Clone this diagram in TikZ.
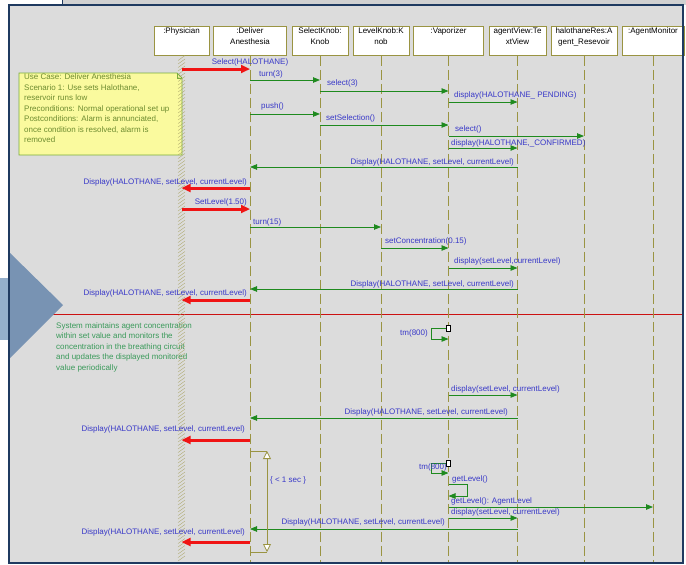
\documentclass[tikz,border=0pt]{standalone}
\usepackage{fontspec}
\setmainfont{Liberation Sans}
\usetikzlibrary{arrows.meta}
\definecolor{seqblue}{HTML}{3838C8}
\definecolor{seqgreen}{HTML}{1E8A1E}
\definecolor{seqred}{HTML}{F01414}
\definecolor{lifeolive}{HTML}{9A9442}
\definecolor{framebg}{HTML}{DCDCDC}
\definecolor{framenavy}{HTML}{1F3A60}
\definecolor{noteyellow}{HTML}{FAFA9E}
\definecolor{noteedge}{HTML}{7AAE3C}
\definecolor{notetext}{HTML}{6E8C30}
\definecolor{systext}{HTML}{3A9A5A}
\definecolor{chevron}{HTML}{7893B3}
\definecolor{chevronlight}{HTML}{94AFCB}
\tikzset{
  every picture/.style={line join=miter, font=\fontsize{8}{10.5}\selectfont},
  lifehead/.style={draw=lifeolive, line width=0.8pt, fill=white, minimum height=29pt, inner sep=0pt, anchor=north},
  headtxt/.style={anchor=north, align=center, inner sep=1pt, yshift=-1pt},
  lifeline/.style={lifeolive, line width=0.9pt, dash pattern=on 10pt off 4pt},
  hatch/.style={lifeolive!75!framebg, line width=0.35pt},
  msglbl/.style={seqblue, inner sep=0pt},
  call/.style={seqgreen, line width=0.8pt, -{Triangle[length=7pt, width=5.5pt]}},
  usercall/.style={seqred, line width=3pt, -{Triangle[length=9pt, width=8pt]}},
  timer/.style={fill=white, draw=black, line width=0.4pt},
  constraint/.style={lifeolive, line width=0.8pt,
    {Triangle[open, fill=white, length=8pt, width=8pt]}-{Triangle[open, fill=white, length=8pt, width=8pt]}},
  notebox/.style={fill=noteyellow, draw=noteedge, line width=0.8pt},
}

\begin{document}
\begin{tikzpicture}[x=1pt, y=-1pt]
  \useasboundingbox (0,0) rectangle (686,565);
  \fill[white] (0,0) rectangle (686,565);
  % slide behind and frame
  \fill[framebg!95!black] (62,0) rectangle (686,5);
  \draw[framenavy, line width=1pt] (62,0) -- (62,5);
  \fill[chevronlight] (0,278) rectangle (9,340);
  \fill[framebg] (9,5) rectangle (683,563);
  \draw[seqred!85!black, line width=0.8pt] (10,314) -- (683,314);
  \fill[chevron] (10,253) -- (63,305) -- (10,358) -- cycle;
  % lifelines
  \foreach \n/\x/\w/\t in {phys/181.5/55/{:Physician\\\mbox{}}, deliver/250/73/{:Deliver\\Anesthesia},
                          selknob/320/56/{SelectKnob:\\Knob}, levknob/381/56/{LevelKnob:K\\nob},
                          vapor/448.5/70/{:Vaporizer\\\mbox{}}, aview/517.5/57/{agentView:Te\\xtView},
                          halres/584/66/{halothaneRes:A\\gent\_Resevoir}, amon/653/62/{:AgentMonitor\\\mbox{}}}
    \node[lifehead, minimum width=\w pt, label={[headtxt]north:\t}] (\n) at (\x,26) {};
  \foreach \n in {deliver, selknob, levknob, vapor, aview, halres, amon}
    \draw[lifeline] (\n.south) -- (\n |- 0,563);
  % use case note
  \draw[notebox] (19,73) -- (177,73) -- (182,78) -- (182,155) -- (19,155) -- cycle;
  \draw[noteedge, line width=0.6pt] (177,73) -- (177,78) -- (182,78);
  \node[notetext, align=left, anchor=north west, inner sep=1pt] (usecase) at (23,73) {Use Case: Deliver Anesthesia\\
    Scenario 1: Use sets Halothane,\\reservoir runs low\\Preconditions: Normal operational set up\\
    Postconditions: Alarm is annunciated,\\once condition is resolved, alarm is\\removed};
  \node[systext, align=left, anchor=north west, inner sep=1pt] (sysnote) at (55,321) {System maintains agent concentration\\
    within set value and monitors the\\concentration in the breathing circuit\\and updates the displayed monitored\\value periodically};
  % physician lifeline is hatched
  \foreach \h in {58,61.5,...,561}
    \draw[hatch] (phys |- 0,\h) ++(-3.5,2.5) -- ++(7,-5);
  % green calls: from/to/y/label x/label y/anchor/text
  \foreach \f/\t/\y/\lx/\ly/\a/\l [count=\i] in {
      deliver/selknob/80/259/74/west/turn(3),
      selknob/vapor/91/327/83/west/select(3),
      vapor/aview/102/454/95/west/display(HALOTHANE\_ PENDING),
      deliver/selknob/114/261/106/west/push(),
      selknob/vapor/125/326/118/west/setSelection(),
      vapor/halres/136/455/129/west/select(),
      vapor/aview/148/451/143/west/{display(HALOTHANE,\_CONFIRMED)},
      aview/deliver/167/514/162/east/{Display(HALOTHANE, setLevel, currentLevel)},
      deliver/levknob/227/253/222/west/turn(15),
      levknob/vapor/248/385/241/west/setConcentration(0.15),
      vapor/aview/268/454/261/west/{display(setLevel,currentLevel)},
      aview/deliver/289/514/284/east/{Display(HALOTHANE, setLevel, currentLevel)},
      vapor/aview/395/451/389/west/{display(setLevel, currentLevel)},
      aview/deliver/418/508/412/east/{Display(HALOTHANE, setLevel, currentLevel)},
      vapor/amon/507/451/501/west/{getLevel(): AgentLevel},
      vapor/aview/518/451/512/west/{display(setLevel, currentLevel)},
      aview/deliver/529/445/522/east/{Display(HALOTHANE, setLevel, currentLevel)}}
  {
    \draw[call] (\f |- 0,\y) -- (\t |- 0,\y);
    \node[msglbl, anchor=\a] (c\i) at (\lx,\ly) {\l};
  }
  % red: physician <-> deliver anesthesia
  \foreach \f/\t/\y/\lx/\ly/\a/\l [count=\i] in {
      phys/deliver/69/250/62/center/Select(HALOTHANE),
      deliver/phys/188/247/182/east/{Display(HALOTHANE, setLevel, currentLevel)},
      phys/deliver/209/247/202/east/SetLevel(1.50),
      deliver/phys/300/247/293/east/{Display(HALOTHANE, setLevel, currentLevel)},
      deliver/phys/440/245/429/east/{Display(HALOTHANE, setLevel, currentLevel)},
      deliver/phys/542/245/532/east/{Display(HALOTHANE, setLevel, currentLevel)}}
  {
    \draw[usercall] (\f |- 0,\y) -- (\t |- 0,\y);
    \node[msglbl, anchor=\a] (u\i) at (\lx,\ly) {\l};
  }
  % self calls on the vaporizer
  \draw[call] (vapor |- 0,328) -- ++(-17,0) -- ++(0,11) -- (vapor |- 0,339);
  \draw[timer] (vapor |- 0,325) ++(-2,0) rectangle ++(4,6);
  \node[msglbl, anchor=east] (tm1) at (428,333) {tm(800)};
  \draw[call] (vapor |- 0,463) -- ++(-17,0) -- ++(0,10) -- (vapor |- 0,473);
  \draw[timer] (vapor |- 0,460) ++(-2,0) rectangle ++(4,6);
  \node[msglbl, anchor=east] (tm2) at (447,467) {tm(800)};
  \draw[call] (vapor |- 0,484) -- ++(19,0) -- ++(0,12) -- (vapor |- 0,496);
  \node[msglbl, anchor=west] (getlvl) at (452,479) {getLevel()};
  % timing constraint
  \coordinate (ctop) at (267,451);
  \coordinate (cbot) at (267,552);
  \draw[lifeolive, line width=0.8pt] (deliver |- ctop) -- (ctop) (deliver |- cbot) -- (cbot);
  \draw[constraint] (ctop) -- (cbot);
  \node[msglbl, anchor=west] (tlimit) at (270,480) {\{ < 1 sec \}};
  \draw[framenavy, line width=2pt] (9,5) rectangle (683,563);
\end{tikzpicture}
\end{document}
